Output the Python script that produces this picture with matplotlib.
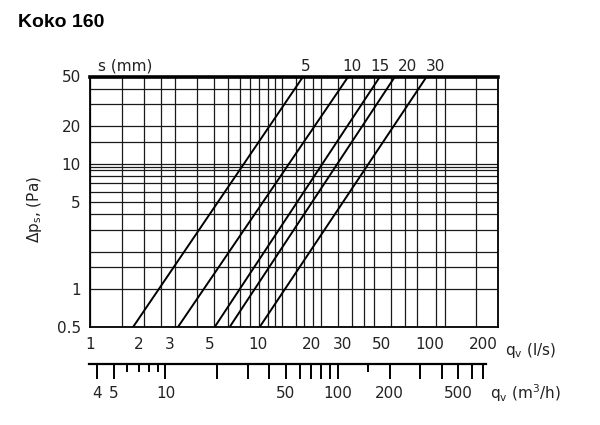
import matplotlib
matplotlib.use('Agg')
from matplotlib import pyplot as plt
from matplotlib.ticker import FixedLocator, FixedFormatter, NullFormatter

plt.rcParams['font.family'] = ['DejaVu Sans']
txt = '#222222'

# slot widths and flow at 0.5 Pa / 50 Pa (l/s)
s_mm = ['5', '10', '15', '20', '30']
q_low = [1.74, 3.12, 5.03, 6.11, 9.03]
q_high = [15.9, 28.6, 43.2, 52.5, 79.3]
dp_ends = [0.5, 50]

# ticks / grid
x_major = [1, 2, 3, 5, 10, 20, 30, 50, 100, 200]
x_grid = [1.5, 2.5, 4, 6, 7, 8, 9, 11, 12, 14.5, 16, 18, 25, 35, 40, 60, 70, 90, 150]
y_major = [0.5, 1, 5, 10, 20, 50]
y_grid = [1.5, 2, 3, 4, 6, 7, 8, 9, 9.5, 15, 30, 40]

# m3/h scale
m3h_long = [4, 5, 10, 20, 30, 40, 50, 60, 70, 80, 90, 100, 200, 300, 400, 500, 600, 700]
m3h_short = [6, 7, 8, 9, 150]
m3h_labels = {4: '4', 5: '5', 10: '10', 50: '50', 100: '100', 200: '200', 500: '500'}

fig = plt.figure(figsize=(6, 4.25), dpi=100)
ax = fig.add_axes([0.1508, 0.2306, 0.679, 0.5894])

for lo, hi in zip(q_low, q_high):
    ax.plot([lo, hi], dp_ends, color='black', linewidth=1.4, zorder=3)

ax.set_xscale('log')
ax.set_yscale('log')
ax.set_xlim(1, 200)
ax.set_ylim(0.5, 50)

ax.xaxis.set_major_locator(FixedLocator(x_major))
ax.xaxis.set_major_formatter(FixedFormatter([str(v) for v in x_major]))
ax.xaxis.set_minor_locator(FixedLocator(x_grid))
ax.xaxis.set_minor_formatter(NullFormatter())
ax.yaxis.set_major_locator(FixedLocator(y_major))
ax.yaxis.set_major_formatter(FixedFormatter([str(v) for v in y_major]))
ax.yaxis.set_minor_locator(FixedLocator(y_grid))
ax.yaxis.set_minor_formatter(NullFormatter())

ax.grid(True, which='both', color='#1a1a1a', linewidth=0.9)
ax.tick_params(which='both', length=0, labelsize=11, labelcolor=txt)
ax.tick_params(axis='x', pad=7)
ax.tick_params(axis='y', pad=7)
# l/s labels sit just left of their grid line
for i, t in enumerate(ax.get_xticklabels()):
    t.set_horizontalalignment('center' if i == 0 else 'right')
for sp in ax.spines.values():
    sp.set_linewidth(1.3)
ax.spines['top'].set_linewidth(2.6)

# slot labels above the frame
label_q = [16.5, 30, 43, 62, 89]
for lab, xq in zip(s_mm, label_q):
    ax.text(xq, 52.5, lab, fontsize=11, color=txt, ha='center', va='bottom')
ax.text(1.1, 52.5, 's (mm)', fontsize=11, color=txt, ha='left', va='bottom')

ax.text(1.017, -0.055, r'q$_\mathrm{v}$ (l/s)', transform=ax.transAxes,
        fontsize=11, color=txt, ha='left', va='top')
ax.set_ylabel(r'$\Delta$p$_\mathrm{s}$, (Pa)', fontsize=11, color=txt)
ax.yaxis.set_label_coords(-0.113, 0.471)

fig.text(0.03, 0.948, 'Koko 160', fontsize=14, fontweight='bold',
         family=['Liberation Sans Narrow', 'Liberation Sans', 'DejaVu Sans'],
         color='black', ha='left', va='center')

# second scale in m3/h
ax2 = fig.add_axes([0.1483, 0.1435 - 0.035, 0.661, 0.035])
ax2.set_xscale('log')
ax2.set_xlim(3.6, 720)
ax2.set_yticks([])
for name in ['left', 'right', 'bottom']:
    ax2.spines[name].set_visible(False)
ax2.spines['top'].set_linewidth(1.6)
ax2.patch.set_alpha(0)
ax2.xaxis.set_major_locator(FixedLocator(m3h_long))
ax2.xaxis.set_major_formatter(FixedFormatter([m3h_labels.get(v, '') for v in m3h_long]))
ax2.xaxis.set_minor_locator(FixedLocator(m3h_short))
ax2.xaxis.set_minor_formatter(NullFormatter())
ax2.tick_params(which='both', bottom=False, top=True, labelbottom=True, labeltop=False,
                direction='in', width=1.4, color='black', labelsize=11, labelcolor=txt, pad=5)
ax2.tick_params(which='major', length=10.8)
ax2.tick_params(which='minor', length=5.5)
ax2.text(1.012, -0.2, r'q$_\mathrm{v}$ (m$^3$/h)', transform=ax2.transAxes,
         fontsize=11, color=txt, ha='left', va='top')

plt.savefig('out.png', dpi=100)
